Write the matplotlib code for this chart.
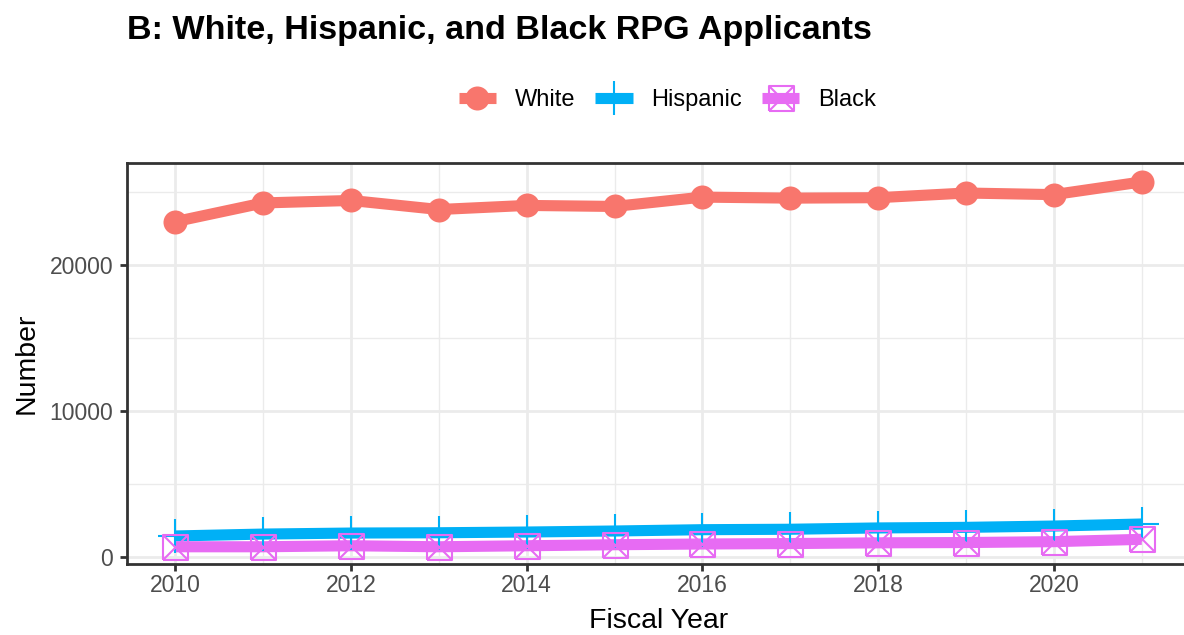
import matplotlib
matplotlib.use('Agg')

import matplotlib.pyplot as plt
from matplotlib.lines import Line2D
from matplotlib.path import Path
from matplotlib.ticker import MultipleLocator

plt.rcParams['font.family'] = ['Liberation Sans', 'DejaVu Sans']

# 申请人数（按财年）
years = [2010, 2011, 2012, 2013, 2014, 2015, 2016, 2017, 2018, 2019, 2020, 2021]
white = [22970, 24250, 24420, 23800, 24080, 24010, 24650, 24580, 24610, 24930, 24820, 25690]
hispanic = [1440, 1570, 1640, 1660, 1710, 1780, 1870, 1900, 1990, 2030, 2120, 2260]
black = [700, 700, 770, 700, 770, 840, 890, 920, 970, 990, 1050, 1210]

groups = ["White", "Hispanic", "Black"]
colors = {"White": "#F8766D", "Hispanic": "#00B0F6", "Black": "#E76BF3"}

# 方框内带 X 的标记（ggplot shape 7）
box_x = Path(
    [(-1, -1), (1, -1), (1, 1), (-1, 1), (-1, -1), (-1, -1), (1, 1), (-1, 1), (1, -1)],
    [Path.MOVETO, Path.LINETO, Path.LINETO, Path.LINETO, Path.LINETO,
     Path.MOVETO, Path.LINETO, Path.MOVETO, Path.LINETO],
)

styles = {
    "White": dict(marker='o', markersize=17.3, mfc=colors["White"], mec=colors["White"], mew=0),
    "Hispanic": dict(marker='+', markersize=24.5, mfc='none', mec=colors["Hispanic"], mew=1.5),
    "Black": dict(marker=box_x, markersize=18, mfc='none', mec=colors["Black"], mew=1.5),
}
series = {"White": white, "Hispanic": hispanic, "Black": black}

LINE_W = 8.0
GRID = "#EBEBEB"
BORDER = "#333333"

fig = plt.figure(figsize=(11.84, 6.35), dpi=100)
W, H = 1184, 635
left, right, top, bottom = 127, 1190, 163, 564
ax = fig.add_axes([left / W, 1 - bottom / H, (right - left) / W, (bottom - top) / H])

# 先画线，再画点
for i, g in enumerate(groups):
    ax.plot(years, series[g], color=colors[g], linewidth=LINE_W,
            solid_capstyle='butt', solid_joinstyle='round', zorder=2 + i * 0.1)
for i, g in enumerate(groups):
    ax.plot(years, series[g], linestyle='none', zorder=3 + i * 0.1, **styles[g])

ax.set_xlim(2009.45, 2021.55)
ax.set_ylim(-480, 26986)

ax.xaxis.set_major_locator(MultipleLocator(2))
ax.xaxis.set_minor_locator(MultipleLocator(1))
ax.yaxis.set_major_locator(MultipleLocator(10000))
ax.yaxis.set_minor_locator(MultipleLocator(5000))

ax.set_axisbelow(True)
ax.grid(True, which='major', color=GRID, linewidth=2.0)
ax.grid(True, which='minor', color=GRID, linewidth=1.0)

for s in ax.spines.values():
    s.set_color(BORDER)
    s.set_linewidth(2.0)
ax.spines['right'].set_visible(False)

ax.tick_params(which='major', length=5, width=2.0, color=BORDER,
               labelsize=16.5, labelcolor='#4D4D4D')
ax.tick_params(axis='x', which='major', pad=2.5)
ax.tick_params(axis='y', which='major', pad=5)
ax.tick_params(which='minor', length=0)

# 坐标轴标题
fig.text((left + right) / 2 / W, 1 - 628 / H, "Fiscal Year",
         ha='center', va='baseline', fontsize=20.5, color='black')
fig.text(34 / W, 1 - (top + bottom) / 2 / H, "Number", rotation=90,
         rotation_mode='anchor', ha='center', va='baseline', fontsize=20.5, color='black')

# 标题
fig.text(left / W, 1 - 39 / H, "B: White, Hispanic, and Black RPG Applicants",
         ha='left', va='baseline', fontsize=24.6, fontweight='bold', color='black')

# 图例
handles = [
    Line2D([0], [0], color=colors[g], linewidth=LINE_W, solid_capstyle='butt', **styles[g])
    for g in groups
]
fig.legend(handles, groups, loc='center', bbox_to_anchor=(667.5 / W, 1 - 100 / H),
           ncol=3, frameon=False, fontsize=17, handlelength=1.57, handletextpad=0.8,
           columnspacing=0.85, borderpad=0, borderaxespad=0)

fig.savefig('out.png', dpi=100, facecolor='white')
plt.close(fig)
